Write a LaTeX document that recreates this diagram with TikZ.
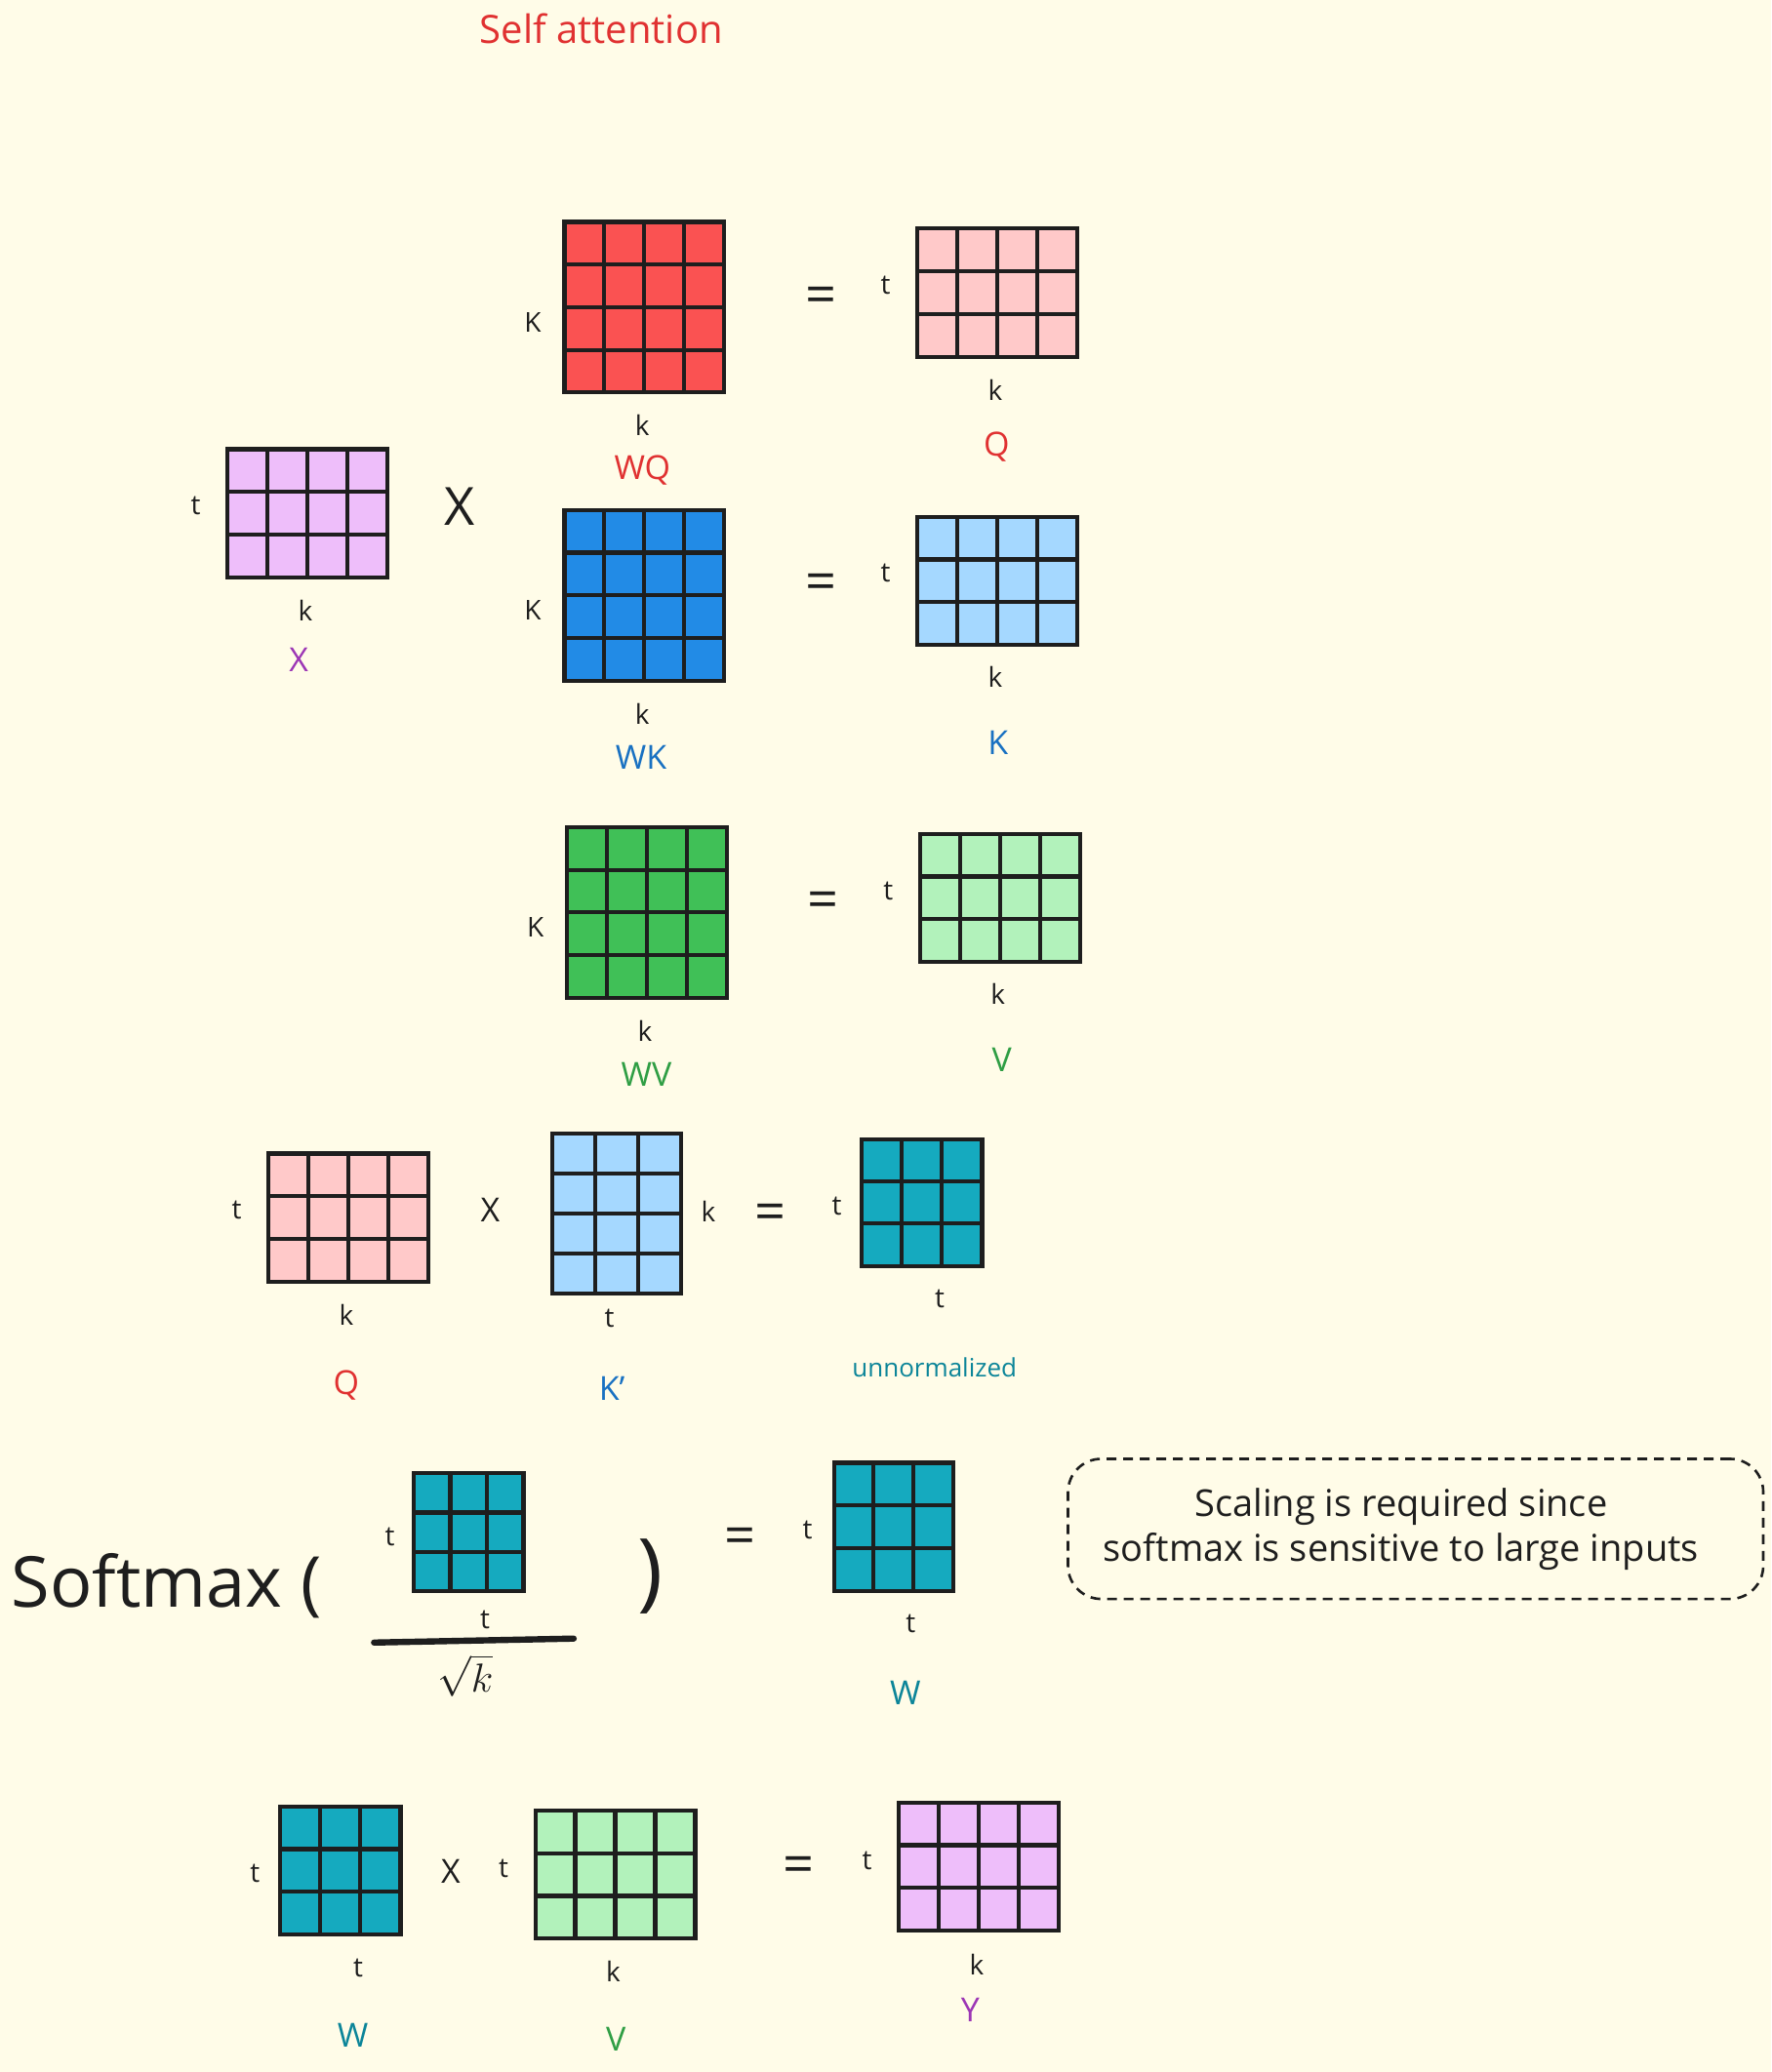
\documentclass[tikz,border=0pt]{standalone}
\usepackage{fontspec}
\setmainfont{Open Sans}
\usetikzlibrary{calc}
\definecolor{bg}{HTML}{FFFCE8}
\definecolor{cRed}{HTML}{FA5252}
\definecolor{cPink}{HTML}{FFC9C9}
\definecolor{cLilac}{HTML}{EEBEFA}
\definecolor{cBlue}{HTML}{228BE6}
\definecolor{cLBlue}{HTML}{A5D8FF}
\definecolor{cGreen}{HTML}{40C057}
\definecolor{cLGreen}{HTML}{B2F2BB}
\definecolor{cTeal}{HTML}{15AABF}
\definecolor{tRed}{HTML}{E03131}
\definecolor{tPurple}{HTML}{9C36B5}
\definecolor{tBlue}{HTML}{1971C2}
\definecolor{tGreen}{HTML}{2F9E44}
\definecolor{tTeal}{HTML}{0C8599}
\definecolor{ink}{HTML}{1E1E1E}
\tikzset{
  matbox/.style={draw=ink, line width=2.1pt, inner sep=0pt, outer sep=0pt},
  matline/.style={draw=ink, line width=2.1pt},
  lbl/.style={font=\fontsize{14}{16}\selectfont, text=ink, inner sep=0pt},
  clbl/.style={font=\fontsize{17}{20}\selectfont, inner sep=0pt},
  eqsign/.style={font=\fontsize{28}{30}\selectfont, text=ink, inner sep=0pt},
  bigx/.style={font=\fontsize{27}{30}\selectfont, text=ink, inner sep=0pt},
  smallx/.style={font=\fontsize{17}{20}\selectfont, text=ink, inner sep=0pt},
}
% #1 name, #2 x0, #3 y0, #4 x1, #5 y1, #6 cols, #7 rows, #8 fill
\newcommand{\gmat}[8]{%
  \node[matbox, fill=#8, minimum width={(#4-#2)*0.6773pt}, minimum height={(#5-#3)*0.6773pt}] (#1) at ({(#2+#4)/2},{(#3+#5)/2}) {};
  \foreach \i in {1,...,#6}{%
    \draw[matline] ($(#1.north west)!{\i/#6}!(#1.north east)$) -- ($(#1.south west)!{\i/#6}!(#1.south east)$);}
  \foreach \j in {1,...,#7}{%
    \draw[matline] ($(#1.north west)!{\j/#7}!(#1.south west)$) -- ($(#1.north east)!{\j/#7}!(#1.south east)$);}
}
\begin{document}
\begin{tikzpicture}[x=0.6773pt,y=-0.6773pt]
\fill[bg] (0,0) rectangle (1340,1568);
\useasboundingbox (0,0) rectangle (1340,1568);

% title
\node[font=\fontsize{20}{24}\selectfont, inner sep=0pt, text=tRed] (title) at (455,22) {Self attention};

% row 1: WQ = Q
\gmat{wq}{427}{168}{548}{297}{4}{4}{cRed}
\node[lbl] (wqL) at (403,244) {K};
\node[lbl] (wqB) at (486,322) {k};
\node[clbl, text=tRed] (wqN) at (486,356) {WQ};
\node[eqsign] (eq1) at (621,227) {=};
\gmat{qa}{694}{173}{815}{270}{4}{3}{cPink}
\node[lbl] (qaL) at (670,216) {t};
\node[lbl] (qaB) at (753,295) {k};
\node[clbl, text=tRed] (qaN) at (754,338) {Q};

% X
\gmat{xm}{172}{340}{293}{437}{4}{3}{cLilac}
\node[lbl] (xmL) at (148,383) {t};
\node[lbl] (xmB) at (231,462) {k};
\node[clbl, text=tPurple] (xmN) at (226,499) {X};
\node[bigx] (times1) at (348,383) {X};

% row 2: WK = K
\gmat{wk}{427}{386}{548}{515}{4}{4}{cBlue}
\node[lbl] (wkL) at (403,462) {K};
\node[lbl] (wkB) at (486,540) {k};
\node[clbl, text=tBlue] (wkN) at (485,573) {WK};
\node[eqsign] (eq2) at (621,444) {=};
\gmat{ka}{694}{391}{815}{488}{4}{3}{cLBlue}
\node[lbl] (kaL) at (670,434) {t};
\node[lbl] (kaB) at (753,512) {k};
\node[clbl, text=tBlue] (kaN) at (755,562) {K};

% row 3: WV = V
\gmat{wv}{429}{626}{550}{755}{4}{4}{cGreen}
\node[lbl] (wvL) at (405,702) {K};
\node[lbl] (wvB) at (488,780) {k};
\node[clbl, text=tGreen] (wvN) at (489,813) {WV};
\node[eqsign] (eq3) at (623,685) {=};
\gmat{va}{696}{631}{817}{728}{4}{3}{cLGreen}
\node[lbl] (vaL) at (672,674) {t};
\node[lbl] (vaB) at (755,752) {k};
\node[clbl, text=tGreen] (vaN) at (758,802) {V};

% row 4: Q x K' = unnormalized
\gmat{qb}{203}{873}{324}{970}{4}{3}{cPink}
\node[lbl] (qbL) at (179,916) {t};
\node[lbl] (qbB) at (262,995) {k};
\node[clbl, text=tRed] (qbN) at (262,1048) {Q};
\node[smallx] (times2) at (371,916) {X};
\gmat{kt}{418}{858}{515}{979}{3}{4}{cLBlue}
\node[lbl] (ktR) at (536,917) {k};
\node[lbl] (ktB) at (461,998) {t};
\node[clbl, text=tBlue] (ktN) at (463,1051) {K\char"0027};
\node[eqsign] (eq4) at (583,921) {=};
\gmat{un}{652}{862}{743}{958}{3}{3}{cTeal}
\node[lbl] (unL) at (633,913) {t};
\node[lbl] (unB) at (711,983) {t};
\node[font=\fontsize{13}{15}\selectfont, inner sep=0pt, text=tTeal] (unN) at (707,1035) {unnormalized};

% row 5: softmax
\node[font=\fontsize{36}{40}\selectfont, text=ink, inner sep=0pt] (smx) at (126,1200) {Softmax (};
\gmat{sm}{313}{1115}{396}{1204}{3}{3}{cTeal}
\node[lbl] (smL) at (295,1163) {t};
\node[lbl] (smB) at (367,1226) {t};
\coordinate (fracL) at (283,1243);
\coordinate (fracR) at (434,1240);
\draw[ink, line width=3.2pt, line cap=round] (fracL) -- (fracR);
\node[text=ink, inner sep=0pt] (sqk) at (352,1268) {\fontsize{20}{24}\selectfont$\sqrt{k}$};
\node[font=\fontsize{44}{48}\selectfont, text=ink, inner sep=0pt] (rpar) at (492,1193) {)};
\node[eqsign] (eq5) at (560,1166) {=};
\gmat{wa}{631}{1107}{721}{1204}{3}{3}{cTeal}
\node[lbl] (waL) at (611,1158) {t};
\node[lbl] (waB) at (689,1229) {t};
\node[clbl, text=tTeal] (waN) at (685,1281) {W};

\node[draw=ink, dashed, dash pattern=on 5pt off 3.5pt, line width=1.3pt, rounded corners=17pt,
      minimum width={526*0.6773pt}, minimum height={106*0.6773pt}] (note) at (1071,1157) {};
\node[align=center, inner sep=0pt, font=\fontsize{19}{23}\selectfont, text=ink] (notetext) at (1060,1157)
      {Scaling is required since\\softmax is sensitive to large inputs};

% row 6: W x V = Y
\gmat{wb}{212}{1367}{303}{1464}{3}{3}{cTeal}
\node[lbl] (wbL) at (193,1418) {t};
\node[lbl] (wbB) at (271,1489) {t};
\node[clbl, text=tTeal] (wbN) at (267,1540) {W};
\node[smallx] (times3) at (341,1416) {X};
\gmat{vb}{405}{1370}{526}{1467}{4}{3}{cLGreen}
\node[lbl] (vbL) at (381,1414) {t};
\node[lbl] (vbB) at (464,1492) {k};
\node[clbl, text=tGreen] (vbN) at (466,1543) {V};
\node[eqsign] (eq6) at (604,1415) {=};
\gmat{ym}{680}{1364}{801}{1461}{4}{3}{cLilac}
\node[lbl] (ymL) at (656,1408) {t};
\node[lbl] (ymB) at (739,1487) {k};
\node[clbl, text=tPurple] (ymN) at (734,1521) {Y};
\end{tikzpicture}
\end{document}
